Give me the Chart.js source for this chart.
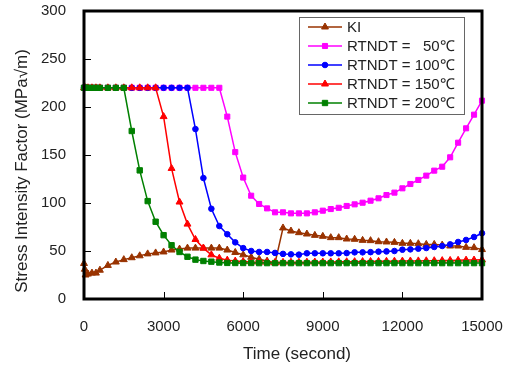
<!DOCTYPE html>
<html><head><meta charset="utf-8">
<script src="https://cdn.jsdelivr.net/npm/chart.js@4.4.1/dist/chart.umd.min.js"></script>
<style>html,body{margin:0;padding:0;background:#fff;}canvas{display:block;}</style>
</head><body>
<canvas id="c" width="510" height="365"></canvas>
<script>
// ---- data ----
const times = [0,30,60,150,300,450,600,900,1200,1500,1800,2100,2400,2700,3000,3300,3600,3900,4200,4500,4800,5100,5400,5700,6000,6300,6600,6900,7200,7500,7800,8100,8400,8700,9000,9300,9600,9900,10200,10500,10800,11100,11400,11700,12000,12300,12600,12900,13200,13500,13800,14100,14400,14700,15000];
const kiValues = [37,31,25,26,27,27,30,35,38.5,41,43,45,47,48,49,51,52,53,53,53,53,53,51,48.5,46,43.5,41.5,39.5,37.5,74,70.8,69.1,67.7,66.3,65.3,63.9,63.9,62.5,62.2,61.1,60.8,59.7,59.4,59,58,58,57.6,56.9,56.9,56.2,55.2,55.2,53.8,53.5,51.5];
const rt50Values = [220,220,220,220,220,220,220,220,220,220,220,220,220,220,220,220,220,220,220,220,220,220,190,153,126.5,107.6,99,94.4,90.3,90.3,89.2,89.2,89.2,90.3,92,93.7,95,96.9,98.6,100.3,102.4,104.9,108.3,110.8,115.3,119.8,124,128.5,133.7,137.8,147.6,162.8,177.8,192,206.6];
const rt100Values = [220,220,220,220,220,220,220,220,220,220,220,220,220,220,220,220,220,220,177,126,94,76,67.5,59,53,50,49,49,48,47,46.5,46.2,47.6,47.6,47.6,47.6,47.6,47.8,48.6,48.6,48.8,49.3,49.6,50,51.4,51.7,52.4,53.1,54.2,55.2,56.9,59.4,61.5,64.6,68.5];
const rt150Values = [220,220,220,220,220,220,220,220,220,220,220,220,220,220,190,136,101,78,62,53,46,42.5,40.5,39.5,39,38.5,38.3,38.2,38.2,38.2,38.3,38.3,38.4,38.5,38.5,38.6,38.7,38.8,38.9,39,39.1,39.2,39.3,39.4,39.5,39.6,39.7,39.8,39.9,40,40.2,40.3,40.5,40.6,40.8];
const rt200Values = [220,220,220,220,220,220,220,220,220,220,175,134,102,80.5,66.5,56,49,44,41,39.6,38.9,38,37.6,37.5,37.5,37.5,37.4,37.4,37.4,37.4,37.4,37.4,37.4,37.4,37.4,37.4,37.4,37.4,37.4,37.4,37.4,37.4,37.4,37.4,37.4,37.4,37.4,37.4,37.4,37.4,37.4,37.4,37.4,37.4,37.4];
const seriesLabels = ['KI','RTNDT =   50\u2103','RTNDT = 100\u2103','RTNDT = 150\u2103','RTNDT = 200\u2103'];
const xTicks = [0,3000,6000,9000,12000,15000];
const yTicks = [0,50,100,150,200,250,300];
const xTitle = 'Time (second)';
const yTitle = 'Stress Intensity Factor (MPa\u221Am)';

const FONT = '"Liberation Sans", Arial, sans-serif';
const pts = vals => times.map((t,i)=>({x:t,y:vals[i]}));

function ds(label, vals, color, style, r, order){
  return {label, data: pts(vals), borderColor: color, backgroundColor: color,
    pointBackgroundColor: color, pointBorderColor: color, pointStyle: style,
    pointRadius: r, pointBorderWidth: 1, borderWidth: 1.5, tension: 0, order, clip: 6};
}

function marker(ctx, style, x, y, r, color){
  ctx.fillStyle = color; ctx.strokeStyle = color; ctx.lineWidth = 1;
  ctx.beginPath();
  if (style === 'circle') { ctx.arc(x, y, r, 0, Math.PI*2); }
  else if (style === 'rect') { const s = Math.SQRT1_2*r; ctx.rect(x-s, y-s, 2*s, 2*s); }
  else { let a = 0; for (let k=0;k<3;k++){ const px = x+Math.sin(a)*r, py = y-Math.cos(a)*r; k?ctx.lineTo(px,py):ctx.moveTo(px,py); a += 2*Math.PI/3; } }
  ctx.closePath(); ctx.fill(); ctx.stroke();
}

const decor = {
  id: 'decor',
  afterDatasetsDraw(chart){
    const {ctx, chartArea: a, scales: {x, y}} = chart;
    ctx.save();
    // inward tick marks
    ctx.strokeStyle = '#000'; ctx.lineWidth = 1;
    ctx.beginPath();
    yTicks.forEach(v => { const py = Math.round(y.getPixelForValue(v)) + 0.5; ctx.moveTo(a.left, py); ctx.lineTo(a.left + 7, py); });
    xTicks.forEach(v => { const px = Math.round(x.getPixelForValue(v)) + 0.5; ctx.moveTo(px, a.bottom); ctx.lineTo(px, a.bottom - 7); });
    ctx.stroke();
    // frame
    ctx.lineWidth = 3;
    ctx.strokeRect(a.left, a.top, a.right - a.left, a.bottom - a.top);
    // legend box
    const bx = a.right - 183, by = a.top + 6, bw = 165, bh = 97;
    ctx.fillStyle = '#fff'; ctx.fillRect(bx, by, bw, bh);
    ctx.strokeStyle = '#666'; ctx.lineWidth = 1;
    ctx.strokeRect(bx + 0.5, by + 0.5, bw, bh);
    ctx.font = '15px ' + FONT; ctx.textBaseline = 'middle'; ctx.textAlign = 'left';
    chart.data.datasets.forEach((d, i) => {
      const ry = by + 10 + i * 19;
      ctx.strokeStyle = d.borderColor; ctx.lineWidth = 1.5;
      ctx.beginPath(); ctx.moveTo(bx + 9, ry); ctx.lineTo(bx + 43, ry); ctx.stroke();
      marker(ctx, d.pointStyle, bx + 26, ry, d.pointRadius, d.borderColor);
      ctx.fillStyle = '#222';
      ctx.fillText(d.label, bx + 48, ry + 1);
    });
    // axis titles
    ctx.fillStyle = '#222'; ctx.font = '17px ' + FONT;
    ctx.textAlign = 'center'; ctx.textBaseline = 'middle';
    ctx.fillText(xTitle, (a.left + a.right)/2 + 14, 354);
    ctx.save();
    ctx.translate(22, (a.top + a.bottom)/2 + 16);
    ctx.rotate(-Math.PI/2);
    ctx.fillText(yTitle, 0, 0);
    ctx.restore();
    ctx.restore();
  }
};

new Chart(document.getElementById('c'), {
  type: 'line',
  data: { datasets: [
    ds(seriesLabels[0], kiValues, '#993300', 'triangle', 4, 4),
    ds(seriesLabels[1], rt50Values, '#FF00FF', 'rect', 3.6, 3),
    ds(seriesLabels[2], rt100Values, '#0000FF', 'circle', 2.8, 2),
    ds(seriesLabels[3], rt150Values, '#FF0000', 'triangle', 4, 1),
    ds(seriesLabels[4], rt200Values, '#008000', 'rect', 3.8, 0)
  ]},
  options: {
    responsive: false, animation: false, devicePixelRatio: 1,
    layout: { padding: { top: 11, right: 28, left: 0, bottom: 0 } },
    plugins: { legend: { display: false }, tooltip: { enabled: false } },
    scales: {
      x: { type: 'linear', min: 0, max: 15000,
        afterBuildTicks: s => { s.ticks = xTicks.map(v => ({value: v})); },
        afterFit: s => { s.height = 66; s.paddingLeft = 0; s.paddingRight = 0; },
        ticks: { font: { size: 15, family: FONT }, color: '#222', padding: 19, maxRotation: 0, autoSkip: false, callback: v => String(v) },
        grid: { display: false, drawTicks: false }, border: { display: false } },
      y: { min: 0, max: 300,
        afterBuildTicks: s => { s.ticks = yTicks.map(v => ({value: v})); },
        afterFit: s => { s.width = 84; s.paddingTop = 0; s.paddingBottom = 0; },
        ticks: { font: { size: 15, family: FONT }, color: '#222', padding: 18, callback: v => String(v) },
        grid: { display: false, drawTicks: false }, border: { display: false } }
    }
  },
  plugins: [decor]
});
</script>
</body></html>
